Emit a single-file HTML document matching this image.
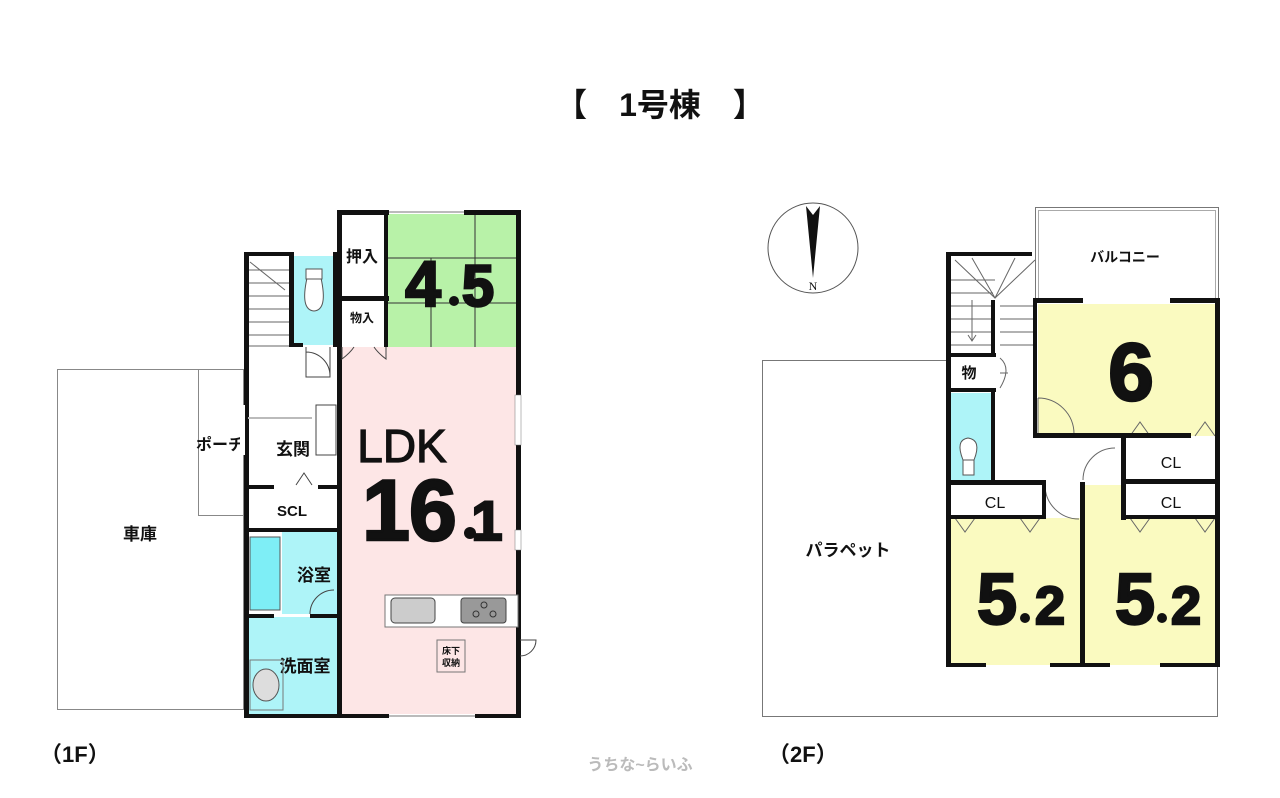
<!DOCTYPE html>
<html><head><meta charset="utf-8"><style>
html,body{margin:0;padding:0;background:#fff;}
svg{display:block;}
text{font-family:"Liberation Sans","Noto Sans CJK JP",sans-serif;font-weight:bold;fill:#111;}
.big{stroke:#111;stroke-width:2.5;}
</style></head><body>
<svg width="1280" height="798" viewBox="0 0 1280 798" xmlns="http://www.w3.org/2000/svg">
<text x="660" y="116" font-size="32" text-anchor="middle">【　1号棟　】</text>

<rect x="57.5" y="369.5" width="186" height="340" fill="none" stroke="#888" stroke-width="1"/>
<rect x="198.5" y="369.5" width="45" height="146" fill="none" stroke="#888" stroke-width="1"/>
<text x="140" y="540" font-size="17" text-anchor="middle">車庫</text>
<text x="220" y="450" font-size="16" text-anchor="middle">ポーチ</text>

<rect x="388" y="214" width="130" height="133" fill="#b8f2a8"/>
<rect x="341" y="347" width="177" height="367" fill="#fde6e6"/>
<rect x="293" y="256" width="40" height="89" fill="#aef4f8"/>
<rect x="248" y="617" width="89" height="97" fill="#aef4f8"/>
<rect x="282" y="532" width="55" height="82" fill="#aef4f8"/>
<rect x="250" y="537" width="30" height="73" fill="#7eeef6" stroke="#555"/>
<g stroke="#333" stroke-width="1">
<line x1="388" y1="258" x2="518" y2="258"/><line x1="388" y1="303" x2="518" y2="303"/>
<line x1="475" y1="214" x2="475" y2="347"/><line x1="431" y1="258" x2="431" y2="347"/>
</g>
<g stroke="#666" stroke-width="1">
<line x1="248" y1="270" x2="290" y2="270"/><line x1="248" y1="283" x2="290" y2="283"/>
<line x1="248" y1="296" x2="290" y2="296"/><line x1="248" y1="309" x2="290" y2="309"/>
<line x1="248" y1="322" x2="290" y2="322"/><line x1="248" y1="335" x2="290" y2="335"/>
<line x1="250" y1="262" x2="285" y2="290"/>
<line x1="245" y1="346" x2="290" y2="346"/>
</g>
<path d="M307 278 Q300 310 314 311 Q328 310 321 278 Z" fill="#fff" stroke="#555"/>
<rect x="306" y="269" width="16" height="10" fill="#fff" stroke="#555"/>
<g fill="#111">
<rect x="244" y="252" width="5" height="465"/>
<rect x="244" y="252" width="49" height="4"/>
<rect x="289" y="252" width="5" height="95"/>
<rect x="289" y="343" width="14" height="4"/>
<rect x="333" y="252" width="5" height="95"/>
<rect x="337" y="210" width="5" height="508"/>
<rect x="337" y="210" width="52" height="5"/>
<rect x="464" y="210" width="56" height="5"/>
<rect x="516" y="210" width="5" height="508"/>
<rect x="337" y="714" width="52" height="4"/>
<rect x="475" y="714" width="45" height="4"/>
<rect x="244" y="714" width="97" height="4"/>
<rect x="337" y="296" width="52" height="5"/>
<rect x="384" y="210" width="4" height="137"/>
<rect x="244" y="485" width="30" height="4"/>
<rect x="318" y="485" width="20" height="4"/>
<rect x="244" y="528" width="94" height="4"/>
<rect x="244" y="614" width="30" height="4"/>
<rect x="310" y="614" width="28" height="4"/>
</g>
<rect x="240" y="405" width="5" height="50" fill="#fff"/>
<rect x="515" y="395" width="6" height="50" fill="#fff" stroke="#777" stroke-width="0.5"/>
<rect x="515" y="530" width="6" height="20" fill="#fff" stroke="#777" stroke-width="0.5"/>
<line x1="389" y1="212" x2="464" y2="212" stroke="#777"/>
<line x1="389" y1="716" x2="475" y2="716" stroke="#777"/>
<g fill="none" stroke="#444" stroke-width="1">
<path d="M342 347 v12 q8 -6 12 -12 M386 347 v12 q-8 -6 -12 -12"/>
<path d="M306 347 v30 h24 v-30 M306 352 a24 24 0 0 1 24 24"/>
<path d="M310 614 a24 24 0 0 1 24 -24"/>
<path d="M316 405 h20 v50 h-20z"/>
<path d="M296 485 l8 -12 l8 12"/>
<line x1="248" y1="418" x2="312" y2="418" stroke="#bbb" stroke-width="2"/>
<path d="M520 640 h16 a16 16 0 0 1 -16 16"/>
</g>
<text x="362" y="262" font-size="16" text-anchor="middle">押入</text>
<text x="362" y="322" font-size="12" text-anchor="middle">物入</text>
<text x="423" y="306" font-size="64" class="big" text-anchor="middle">4</text>
<circle cx="454" cy="301" r="5" fill="#111"/>
<text x="478" y="306" font-size="58" class="big" text-anchor="middle">5</text>
<text x="293" y="455" font-size="17" text-anchor="middle">玄関</text>
<text x="292" y="516" font-size="15" text-anchor="middle">SCL</text>
<text x="314" y="581" font-size="17" text-anchor="middle">浴室</text>
<text x="305" y="672" font-size="17" text-anchor="middle">洗面室</text>
<ellipse cx="266" cy="685" rx="13" ry="16" fill="#ddd" stroke="#555"/>
<rect x="250" y="660" width="33" height="50" fill="none" stroke="#777"/>
<text x="402" y="462" font-size="46" text-anchor="middle" style="font-weight:normal" stroke="#111" stroke-width="1.2">LDK</text>
<text x="409" y="540" font-size="86" class="big" text-anchor="middle" letter-spacing="-1">16</text>
<circle cx="470" cy="533" r="6" fill="#111"/>
<text x="487" y="540" font-size="56" class="big" text-anchor="middle">1</text>
<rect x="385" y="595" width="133" height="32" fill="#fff" stroke="#777"/>
<rect x="391" y="598" width="44" height="25" rx="4" fill="#ccc" stroke="#444"/>
<rect x="461" y="598" width="45" height="25" rx="3" fill="#999" stroke="#444"/>
<g fill="#999" stroke="#333"><circle cx="484" cy="605" r="3"/><circle cx="476" cy="614" r="3"/><circle cx="493" cy="614" r="3"/></g>
<rect x="437" y="640" width="28" height="32" fill="#fde6e6" stroke="#777"/>
<text x="451" y="654" font-size="9" text-anchor="middle">床下</text>
<text x="451" y="666" font-size="9" text-anchor="middle">収納</text>

<text x="40" y="762" font-size="22">（1F）</text>
<text x="768" y="762" font-size="22">（2F）</text>
<text x="640" y="770" font-size="16" text-anchor="middle" style="fill:#bbb">うちな~らいふ</text>

<circle cx="813" cy="248" r="45" fill="none" stroke="#555"/>
<path d="M806 206 L813 278 L820 206 L813 215 Z" fill="#111"/>
<text x="813" y="290" font-size="12" text-anchor="middle" style="font-family:'Liberation Serif',serif;font-weight:normal">N</text>

<rect x="762.5" y="360.5" width="455" height="356" fill="none" stroke="#777"/>
<rect x="1035.5" y="207.5" width="183" height="93" fill="#fff" stroke="#777"/>
<rect x="1038.5" y="210.5" width="177" height="90" fill="none" stroke="#aaa"/>
<text x="1125" y="262" font-size="14" text-anchor="middle">バルコニー</text>
<rect x="950" y="254" width="85" height="232" fill="#fff"/>
<rect x="1000" y="300" width="218" height="365" fill="#fff"/>
<text x="848" y="556" font-size="17" text-anchor="middle">パラペット</text>
<rect x="1038" y="304" width="178" height="132" fill="#fafac0"/>
<rect x="950" y="518" width="130" height="147" fill="#fafac0"/>
<rect x="1085" y="518" width="131" height="147" fill="#fafac0"/>
<rect x="1085" y="485" width="40" height="33" fill="#fafac0"/>
<rect x="950" y="393" width="41" height="87" fill="#aef4f8"/>
<g stroke="#666" stroke-width="1" fill="none">
<line x1="950" y1="280" x2="995" y2="280"/><line x1="950" y1="293" x2="993" y2="293"/><line x1="950" y1="306" x2="993" y2="306"/>
<line x1="950" y1="319" x2="993" y2="319"/><line x1="950" y1="332" x2="993" y2="332"/><line x1="950" y1="345" x2="993" y2="345"/>
<line x1="1000" y1="306" x2="1035" y2="306"/><line x1="1000" y1="319" x2="1035" y2="319"/><line x1="1000" y1="332" x2="1035" y2="332"/><line x1="1000" y1="345" x2="1035" y2="345"/>
<path d="M955 260 L995 298 L1035 260 M972 258 L995 298 L1015 258"/>
<path d="M972 300 v40 M968 335 l4 6 l4 -6"/>
<path d="M1000 358 q12 10 0 30 M1000 373 h8"/>
<path d="M1038 398 a36 36 0 0 1 36 36 M1038 398 v36"/>
<path d="M1083 480 a32 32 0 0 1 32 -32 M1045 485 a34 34 0 0 0 34 34"/>
<path d="M1130 436 l10 -14 l10 14 M1195 436 l10 -14 l10 14"/>
<path d="M955 518 l10 14 l10 -14 M1020 518 l10 14 l10 -14 M1130 518 l10 14 l10 -14 M1195 518 l10 14 l10 -14"/>
</g>
<path d="M963 460 Q955 440 968 438 Q982 440 974 460 Z M963 460 h11 v15 h-11z" fill="#fff" stroke="#555"/>
<g fill="#111">
<rect x="946" y="252" width="5" height="415"/>
<rect x="946" y="252" width="86" height="4"/>
<rect x="991" y="300" width="4" height="56"/>
<rect x="946" y="353" width="50" height="4"/>
<rect x="946" y="388" width="50" height="4"/>
<rect x="991" y="388" width="4" height="96"/>
<rect x="1033" y="298" width="50" height="5"/>
<rect x="1170" y="298" width="50" height="5"/>
<rect x="1033" y="298" width="4" height="140"/>
<rect x="1215" y="298" width="5" height="369"/>
<rect x="1033" y="433" width="158" height="5"/>
<rect x="1121" y="433" width="5" height="87"/>
<rect x="1121" y="479" width="99" height="5"/>
<rect x="1121" y="515" width="99" height="4"/>
<rect x="946" y="480" width="98" height="5"/>
<rect x="946" y="515" width="100" height="4"/>
<rect x="1042" y="480" width="4" height="39"/>
<rect x="1080" y="482" width="5" height="185"/>
<rect x="946" y="663" width="40" height="4"/>
<rect x="1050" y="663" width="60" height="4"/>
<rect x="1160" y="663" width="60" height="4"/>
</g>
<text x="969" y="378" font-size="15" text-anchor="middle">物</text>
<text x="1171" y="468" font-size="16" text-anchor="middle" style="font-weight:normal">CL</text>
<text x="995" y="508" font-size="16" text-anchor="middle" style="font-weight:normal">CL</text>
<text x="1171" y="508" font-size="16" text-anchor="middle" style="font-weight:normal">CL</text>
<text x="1131" y="400" font-size="82" class="big" text-anchor="middle">6</text>
<text x="997" y="624" font-size="72" class="big" text-anchor="middle">5</text>
<circle cx="1025" cy="618" r="5" fill="#111"/>
<text x="1050" y="624" font-size="54" class="big" text-anchor="middle">2</text>
<text x="1135" y="624" font-size="72" class="big" text-anchor="middle">5</text>
<circle cx="1162" cy="618" r="5" fill="#111"/>
<text x="1186" y="624" font-size="54" class="big" text-anchor="middle">2</text>
</svg>
</body></html>
